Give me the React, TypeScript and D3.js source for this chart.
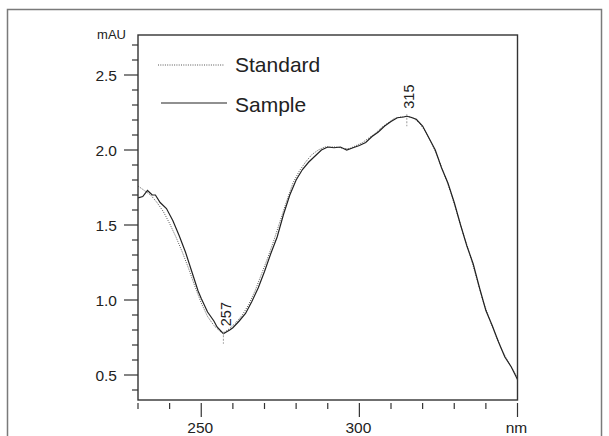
import React from "react";
import * as d3 from "d3";

const W = 609;
const H = 436;

// Sample spectrum (solid) — wavelength nm, absorbance mAU
const sampleNm = [230, 231.5, 233, 234.5, 235.5, 237, 239, 241, 243, 245, 247, 249, 250, 252, 254, 255, 257, 259, 260, 262, 264, 266, 268, 270, 272, 274, 276, 278, 280, 282, 284, 286, 288, 290, 292, 294, 296, 298, 300, 302, 304, 306, 308, 310, 312, 314, 315, 316, 318, 320, 322, 324, 326, 328, 330, 332, 334, 336, 338, 340, 342, 344, 346, 348, 350];
const sampleAU = [1.68, 1.69, 1.73, 1.70, 1.70, 1.65, 1.61, 1.53, 1.43, 1.32, 1.19, 1.06, 1.01, 0.92, 0.86, 0.82, 0.775, 0.80, 0.815, 0.86, 0.91, 0.99, 1.08, 1.19, 1.31, 1.42, 1.57, 1.70, 1.80, 1.87, 1.92, 1.96, 2.00, 2.02, 2.015, 2.02, 2.0, 2.015, 2.03, 2.05, 2.09, 2.12, 2.16, 2.19, 2.215, 2.22, 2.225, 2.22, 2.205, 2.16, 2.08, 2.00, 1.88, 1.78, 1.65, 1.50, 1.36, 1.24, 1.08, 0.93, 0.83, 0.72, 0.62, 0.555, 0.47];

// Standard spectrum (dotted)
const standardNm = [230, 232, 234, 236, 238, 240, 242, 244, 246, 248, 250, 252, 254, 256, 257, 259, 261, 263, 265, 267, 269, 271, 273, 275, 277, 279, 281, 283, 285, 287, 289, 291, 293, 295, 297, 299, 301, 303, 305, 307, 309, 311, 313, 315, 317, 319, 321, 323, 325, 327, 329, 331, 333, 335, 337, 339, 341, 343, 345, 347, 349, 350];
const standardAU = [1.76, 1.73, 1.70, 1.65, 1.59, 1.51, 1.42, 1.32, 1.21, 1.09, 0.98, 0.89, 0.83, 0.79, 0.78, 0.81, 0.85, 0.90, 0.97, 1.06, 1.17, 1.28, 1.40, 1.53, 1.66, 1.78, 1.86, 1.92, 1.97, 2.00, 2.02, 2.02, 2.02, 2.01, 2.01, 2.03, 2.05, 2.08, 2.11, 2.15, 2.18, 2.21, 2.22, 2.225, 2.215, 2.18, 2.12, 2.04, 1.94, 1.83, 1.71, 1.57, 1.43, 1.30, 1.15, 1.00, 0.88, 0.77, 0.67, 0.59, 0.52, 0.48];

const peakNm = [257, 315];
const peakAU = [0.775, 0.225 + 2.0];
const peakLabels = ["257", "315"];

const xTicks = d3.range(230, 351, 10);
const xMajor = [250, 300, 350];
const xLabels = ["250", "300", "nm"];
const yTicks = d3.range(4, 28).map((d) => d / 10);
const yMajor = [0.5, 1.0, 1.5, 2.0, 2.5];
const yLabels = ["0.5", "1.0", "1.5", "2.0", "2.5"];

const legendNames = ["Standard", "Sample"];

const FONT = "'Liberation Sans', Arial, Helvetica, sans-serif";

export default function App() {
  const left = 138;
  const right = 517.5;
  const top = 35;
  const bottom = 400;

  const x = d3.scaleLinear().domain([230, 350]).range([left, right]);
  const yBase = d3.scaleLinear().domain([0.5, 2.5]).range([375, 75]);
  const y = d3
    .scaleLinear()
    .domain([yBase.invert(bottom), yBase.invert(top)])
    .range([bottom, top]);

  const line = d3
    .line<[number, number]>()
    .x((d) => x(d[0]))
    .y((d) => y(d[1]));

  const sampleData = sampleNm.map((n, i) => [n, sampleAU[i]] as [number, number]);
  const standardData = standardNm.map((n, i) => [n, standardAU[i]] as [number, number]);

  return (
    <div style={{ position: "absolute", left: 0, top: 0 }}>
      <svg width={W} height={H} style={{ display: "block", background: "#fff" }} fontFamily={FONT}>
        {/* outer frame */}
        <rect x={7.5} y={9.5} width={594} height={500} fill="none" stroke="#7a7a7a" strokeWidth={1.5} />

        <defs>
          <clipPath id="plotclip">
            <rect x={left} y={top} width={right - left} height={bottom - top} />
          </clipPath>
        </defs>

        {/* curves */}
        <g clipPath="url(#plotclip)">
          <path d={line(standardData) || ""} fill="none" stroke="#555" strokeWidth={1} strokeDasharray="1,1.3" />
          <path d={line(sampleData) || ""} fill="none" stroke="#222" strokeWidth={1.2} />
        </g>

        {/* plot box */}
        <rect x={left} y={top} width={right - left} height={bottom - top} fill="none" stroke="#333" strokeWidth={1.4} />

        {/* y ticks */}
        {yTicks.map((t) => {
          const major = yMajor.some((m) => Math.abs(m - t) < 1e-6);
          return (
            <line key={"yt" + t} x1={left - (major ? 14 : 6)} x2={left} y1={y(t)} y2={y(t)} stroke="#333" strokeWidth={1.2} />
          );
        })}
        {yMajor.map((t, i) => (
          <text key={"yl" + t} x={117} y={y(t) + 6} textAnchor="end" fontSize={15.5} fill="#222">
            {yLabels[i]}
          </text>
        ))}
        <text x={126} y={38.5} textAnchor="end" fontSize={13} fill="#222">
          mAU
        </text>

        {/* x ticks */}
        {xTicks.map((t) => {
          const major = xMajor.includes(t);
          return (
            <line key={"xt" + t} x1={x(t)} x2={x(t)} y1={bottom + 3} y2={bottom + (major ? 17 : 9)} stroke="#333" strokeWidth={1.2} />
          );
        })}
        {xMajor.map((t, i) => (
          <text key={"xl" + t} x={x(t) - 1} y={432.5} textAnchor="middle" fontSize={15.5} fill="#222">
            {xLabels[i]}
          </text>
        ))}

        {/* peak markers */}
        {peakNm.map((p, i) => (
          <g key={"pk" + p}>
            <line x1={x(p)} x2={x(p)} y1={y(peakAU[i]) - 2} y2={y(peakAU[i]) + 10} stroke="#999" strokeWidth={1} strokeDasharray="2,1.5" />
            <text
              transform={`translate(${x(p) + 7.5},${y(peakAU[i]) - 7.5}) rotate(-90)`}
              fontSize={14.5}
              fill="#222"
            >
              {peakLabels[i]}
            </text>
          </g>
        ))}

        {/* legend */}
        <line x1={158} x2={224} y1={65} y2={65} stroke="#555" strokeWidth={1} strokeDasharray="1,1.3" />
        <text x={235} y={71.5} fontSize={21} fill="#222">
          {legendNames[0]}
        </text>
        <line x1={161} x2={227} y1={103} y2={103} stroke="#222" strokeWidth={1.2} />
        <text x={235} y={111.5} fontSize={21} fill="#222">
          {legendNames[1]}
        </text>
      </svg>
    </div>
  );
}
